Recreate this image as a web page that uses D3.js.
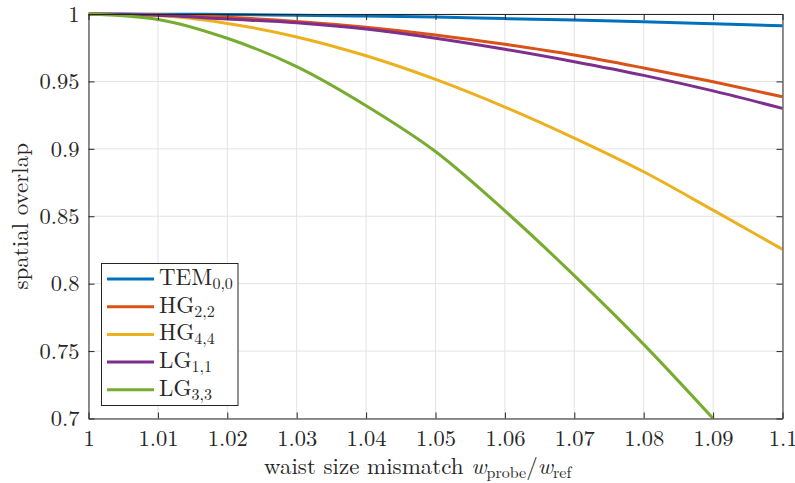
<!DOCTYPE html>
<html>
<head>
<style>
  body { margin: 0; background: #fff; }
</style>
<script src="https://d3js.org/d3.v7.min.js"></script>
</head>
<body>
<script>
// values
const xs    = [1, 1.01, 1.02, 1.03, 1.04, 1.05, 1.06, 1.07, 1.08, 1.09, 1.1];
const tem00 = [1, 0.9999, 0.9996, 0.9991, 0.9985, 0.9977, 0.9966, 0.9955, 0.9942, 0.9927, 0.9912];
const hg22  = [1, 0.9994, 0.9975, 0.9945, 0.9902, 0.9845, 0.9775, 0.9696, 0.9600, 0.9497, 0.9386];
const hg44  = [1, 0.9988, 0.9930, 0.9830, 0.9690, 0.9515, 0.9310, 0.9080, 0.8830, 0.8545, 0.8255];
const lg11  = [1, 0.9991, 0.9963, 0.9935, 0.9888, 0.9820, 0.9738, 0.9646, 0.9545, 0.9430, 0.9300];
const lg33  = [1, 0.9960, 0.9820, 0.9610, 0.9320, 0.8980, 0.8540, 0.8060, 0.7550, 0.7000];

const names  = [["TEM", "0,0"], ["HG", "2,2"], ["HG", "4,4"], ["LG", "1,1"], ["LG", "3,3"]];
const series = [tem00, hg22, hg44, lg11, lg33];
const colors = ["#0072BD", "#D95319", "#EDB120", "#7E2F8E", "#77AC30"];

const xTicks = [1, 1.01, 1.02, 1.03, 1.04, 1.05, 1.06, 1.07, 1.08, 1.09, 1.1];
const yTicks = [0.7, 0.75, 0.8, 0.85, 0.9, 0.95, 1];

const font = '"Latin Modern Roman", "Liberation Serif", serif';
const w = 795, h = 483;
const pLeft = 88.5, pRight = 782.5, pTop = 14, pBottom = 418.5;

const svg = d3.select("body").append("svg").attr("width", w).attr("height", h);

const x = d3.scaleLinear().domain([1, 1.1]).range([pLeft, pRight]);
const y = d3.scaleLinear().domain([0.7, 1]).range([pBottom, pTop]);

// grid
svg.append("g").selectAll("line").data(xTicks).join("line")
  .attr("x1", d => x(d)).attr("x2", d => x(d)).attr("y1", pTop).attr("y2", pBottom)
  .attr("stroke", "#e3e3e3").attr("stroke-width", 1);
svg.append("g").selectAll("line").data(yTicks).join("line")
  .attr("y1", d => y(d)).attr("y2", d => y(d)).attr("x1", pLeft).attr("x2", pRight)
  .attr("stroke", "#e3e3e3").attr("stroke-width", 1);

// curves
svg.append("clipPath").attr("id", "clip").append("rect")
  .attr("x", pLeft).attr("y", pTop - 2).attr("width", pRight - pLeft).attr("height", pBottom - pTop + 2);
const line = d3.line().x((d, i) => x(xs[i])).y(d => y(d)).curve(d3.curveMonotoneX);
svg.append("g").attr("clip-path", "url(#clip)").selectAll("path").data(series).join("path")
  .attr("d", line).attr("fill", "none")
  .attr("stroke", (d, i) => colors[i]).attr("stroke-width", 3);

// axes
const fmt = d => String(+d.toFixed(2));
const xAx = svg.append("g").attr("transform", `translate(0,${pBottom})`)
  .call(d3.axisBottom(x).tickValues(xTicks).tickSizeInner(-6).tickSizeOuter(0).tickFormat(fmt));
xAx.selectAll(".tick text").attr("dy", null).attr("y", 27);
svg.append("g").attr("transform", `translate(${pLeft},0)`)
  .call(d3.axisLeft(y).tickValues(yTicks).tickSizeInner(-6).tickSizeOuter(0).tickPadding(9).tickFormat(fmt));
svg.append("g").attr("transform", `translate(0,${pTop})`)
  .call(d3.axisTop(x).tickValues(xTicks).tickSizeInner(-6).tickSizeOuter(0).tickFormat(""));
svg.append("g").attr("transform", `translate(${pRight},0)`)
  .call(d3.axisRight(y).tickValues(yTicks).tickSizeInner(-6).tickSizeOuter(0).tickFormat(""));
svg.selectAll(".domain, .tick line").attr("stroke", "#262626").attr("stroke-width", 1);
svg.selectAll(".tick text").style("font-family", font).style("font-size", "22.5px").attr("fill", "#262626");

// axis labels
const xl = svg.append("text").attr("x", 264).attr("y", 474)
  .style("font-family", font).style("font-size", "23px").attr("fill", "#262626");
xl.append("tspan").text("waist size mismatch ");
xl.append("tspan").style("font-style", "italic").text("w");
xl.append("tspan").style("font-size", "16px").attr("dy", 4).text("probe");
xl.append("tspan").attr("dy", -4).text("/");
xl.append("tspan").style("font-style", "italic").text("w");
xl.append("tspan").style("font-size", "16px").attr("dy", 4).text("ref");

svg.append("text").attr("transform", `translate(28,${(pTop + pBottom) / 2}) rotate(-90)`)
  .attr("text-anchor", "middle").style("font-family", font).style("font-size", "23px")
  .attr("fill", "#262626").text("spatial overlap");

// legend
const lg = svg.append("g");
lg.append("rect").attr("x", 101.5).attr("y", 263.5).attr("width", 136.5).attr("height", 142)
  .attr("fill", "#fff").attr("stroke", "#262626").attr("stroke-width", 1);
names.forEach((n, i) => {
  const cy = 279 + i * 27.7;
  lg.append("line").attr("x1", 107).attr("x2", 154).attr("y1", cy).attr("y2", cy)
    .attr("stroke", colors[i]).attr("stroke-width", 3);
  const t = lg.append("text").attr("x", 159).attr("y", cy + 6)
    .style("font-family", font).style("font-size", "23px").attr("fill", "#262626");
  t.append("tspan").text(n[0]);
  t.append("tspan").style("font-size", "16px").attr("dy", 4).text(n[1]);
});
</script>
</body>
</html>
